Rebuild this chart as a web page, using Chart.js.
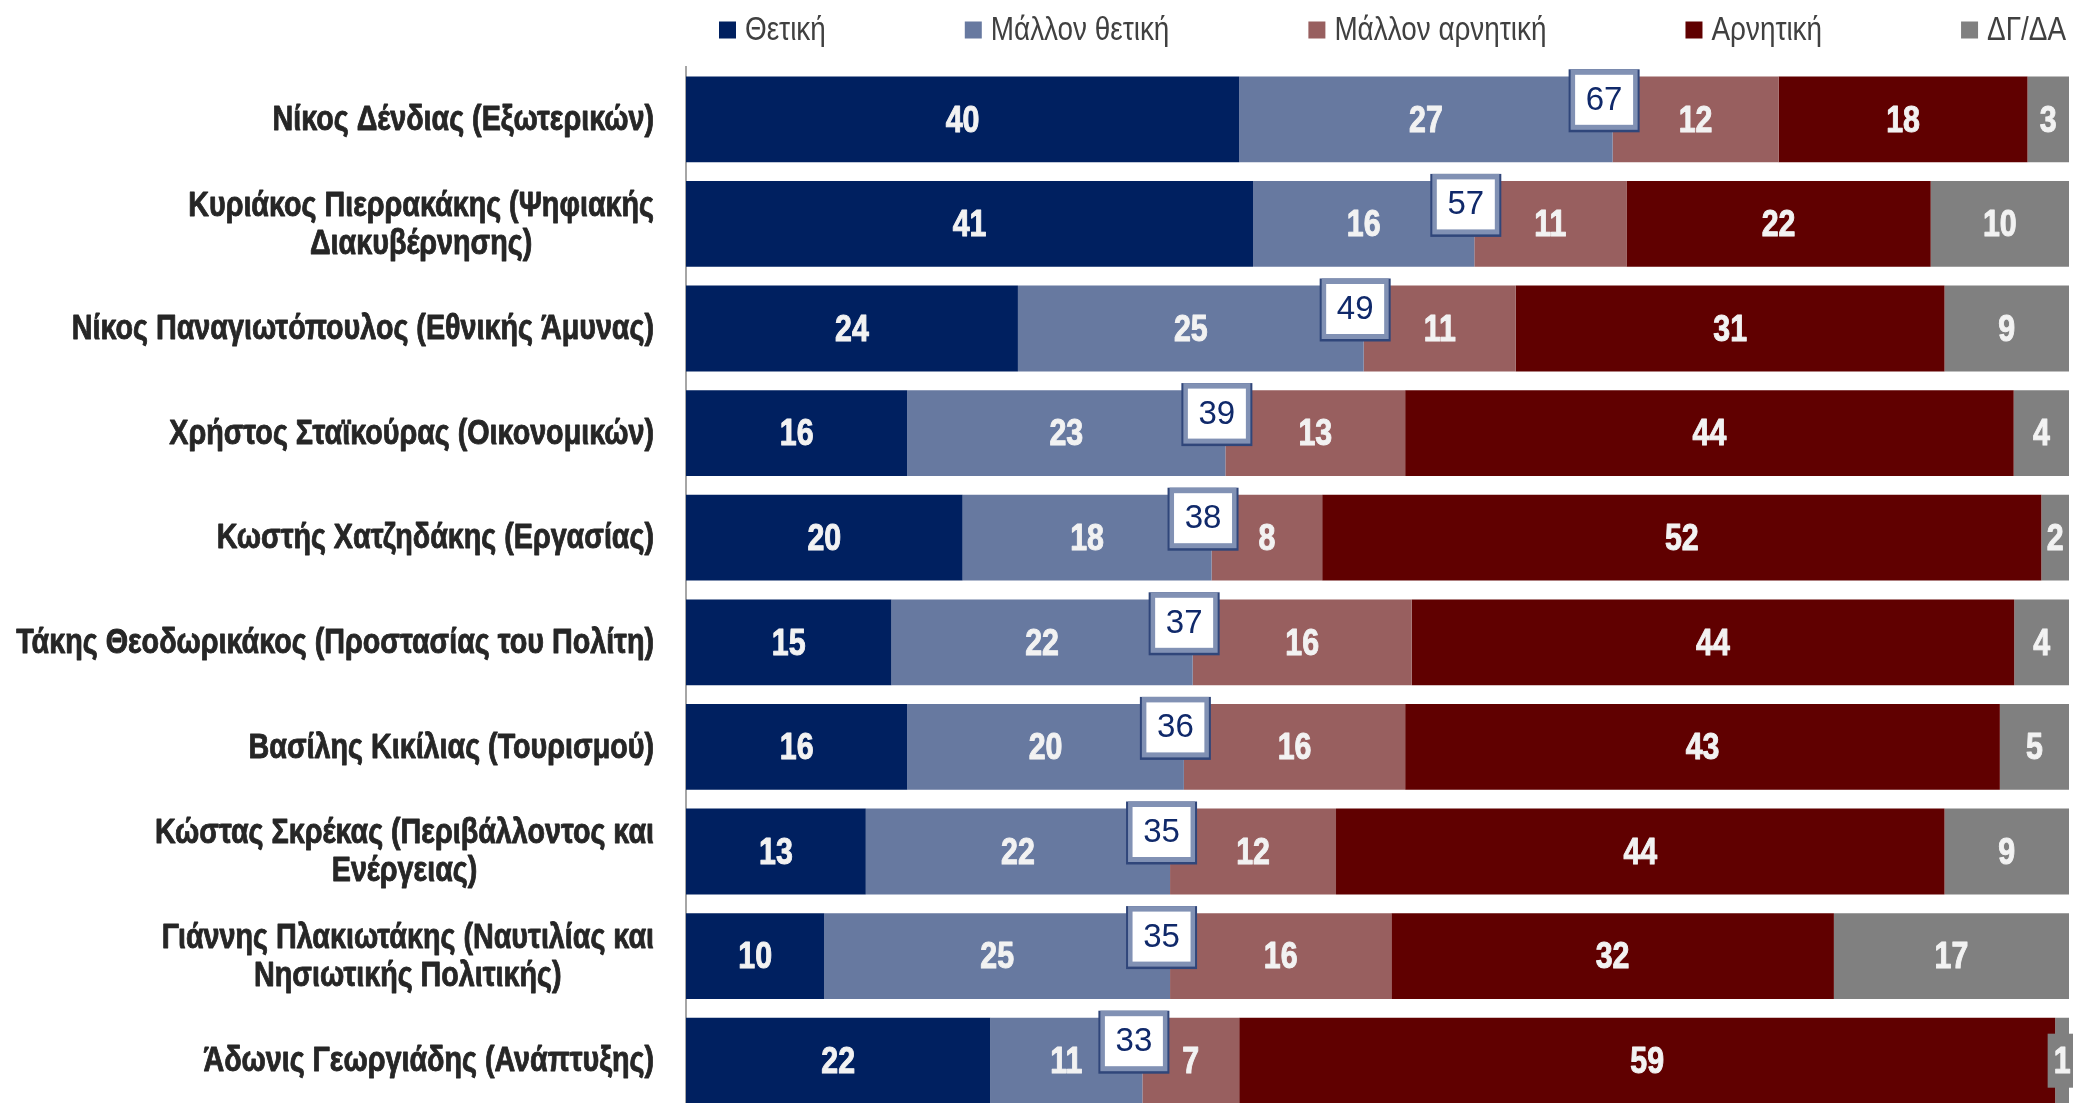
<!DOCTYPE html>
<html>
<head>
<meta charset="utf-8">
<script src="https://cdn.jsdelivr.net/npm/chart.js@4.4.1/dist/chart.umd.min.js"></script>
<style>
  html, body { margin: 0; padding: 0; background: #fff; overflow: hidden; }
  #wrap { position: relative; width: 2073px; height: 1113px; }
</style>
</head>
<body>
<div id="wrap"><canvas id="ministersChart"></canvas></div>
<script>
// Υπουργοί (κατηγορίες), δύο γραμμές όπου χρειάζεται
const ministers = [
  ["Νίκος Δένδιας (Εξωτερικών)"],
  ["Κυριάκος Πιερρακάκης (Ψηφιακής", "Διακυβέρνησης)"],
  ["Νίκος Παναγιωτόπουλος (Εθνικής Άμυνας)"],
  ["Χρήστος Σταϊκούρας (Οικονομικών)"],
  ["Κωστής Χατζηδάκης (Εργασίας)"],
  ["Τάκης Θεοδωρικάκος (Προστασίας του Πολίτη)"],
  ["Βασίλης Κικίλιας (Τουρισμού)"],
  ["Κώστας Σκρέκας (Περιβάλλοντος και", "Ενέργειας)"],
  ["Γιάννης Πλακιωτάκης (Ναυτιλίας και", "Νησιωτικής Πολιτικής)"],
  ["Άδωνις Γεωργιάδης (Ανάπτυξης)"]
];

const thetiki        = [40, 41, 24, 16, 20, 15, 16, 13, 10, 22];
const mallonThetiki  = [27, 16, 25, 23, 18, 22, 20, 22, 25, 11];
const mallonArnitiki = [12, 11, 11, 13,  8, 16, 16, 12, 16,  7];
const arnitiki       = [18, 22, 31, 44, 52, 44, 43, 44, 32, 59];
const dgda           = [ 3, 10,  9,  4,  2,  4,  5,  9, 17,  1];
// σύνολο θετικών (κουτάκι)
const synoloThetika  = [67, 57, 49, 39, 38, 37, 36, 35, 35, 33];

const seires  = ["Θετική", "Μάλλον θετική", "Μάλλον αρνητική", "Αρνητική", "ΔΓ/ΔΑ"];
const xromata = ["#002060", "#6779a0", "#985f5f", "#600000", "#808080"];

// geen Arial Narrow beschikbaar: Liberation Sans horizontaal samendrukken
const FONT = '"Liberation Sans", Arial, sans-serif';
const SMAL = 0.82;

const waardes = [thetiki, mallonThetiki, mallonArnitiki, arnitiki, dgda];

// 100% stacked: elke rij genormaliseerd op zijn som
function percentages(reeks) {
  return reeks.map((v, i) => {
    const som = waardes.reduce((s, r) => s + r[i], 0);
    return (v / som) * 100;
  });
}

function breedte(ctx, tekst) {
  return ctx.measureText(tekst).width * SMAL;
}

// smalle tekst, optioneel iets vetter via een dunne omlijning
function tekstSmal(ctx, tekst, x, y, vet) {
  ctx.save();
  ctx.translate(x, y);
  ctx.scale(SMAL, 1);
  ctx.fillText(tekst, 0, 0);
  if (vet) {
    ctx.strokeStyle = ctx.fillStyle;
    ctx.lineWidth = vet;
    ctx.lineJoin = "round";
    ctx.strokeText(tekst, 0, 0);
  }
  ctx.restore();
}

const datasets = waardes.map((reeks, k) => ({
  label: seires[k],
  data: percentages(reeks),
  waarden: reeks,
  backgroundColor: xromata[k],
  borderWidth: 0,
  barPercentage: 0.82,
  categoryPercentage: 1
}));

// Legenda zelf tekenen (gelijkmatige tussenruimte)
const legendaPlugin = {
  id: "legenda",
  afterDraw(chart) {
    const ctx = chart.ctx;
    ctx.save();
    ctx.font = "34px " + FONT;
    ctx.textBaseline = "middle";
    ctx.textAlign = "left";
    const start = 719, eind = 2066, blok = 17, tekstOffset = 26;
    const breedtes = seires.map(s => tekstOffset + breedte(ctx, s));
    const totaal = breedtes.reduce((a, b) => a + b, 0);
    const gat = (eind - start - totaal) / (seires.length - 1);
    let x = start;
    const y = 30;
    seires.forEach((s, k) => {
      ctx.fillStyle = xromata[k];
      ctx.fillRect(x, y - blok / 2, blok, blok);
      ctx.fillStyle = "#404040";
      tekstSmal(ctx, s, x + tekstOffset, y + 1, 0);
      x += breedtes[k] + gat;
    });
    ctx.restore();
  }
};

// Namen links van de as, blok rechts uitgelijnd, regels gecentreerd
const namenPlugin = {
  id: "namen",
  afterDraw(chart) {
    const ctx = chart.ctx;
    const yScale = chart.scales.y;
    const rechts = 654, regel = 38;
    ctx.save();
    ctx.font = "bold 35px " + FONT;
    ctx.fillStyle = "#262626";
    ctx.textBaseline = "middle";
    ctx.textAlign = "center";
    ministers.forEach((regels, i) => {
      const yc = yScale.getPixelForValue(i);
      const breed = Math.max(...regels.map(r => breedte(ctx, r)));
      const cx = rechts - breed / 2;
      const y0 = yc - ((regels.length - 1) * regel) / 2;
      regels.forEach((r, j) => tekstSmal(ctx, r, cx, y0 + j * regel + 1, 0.9));
    });
    ctx.restore();
  }
};

// Waarden in de segmenten + kader met totaal positief
const labelsPlugin = {
  id: "waardeLabels",
  afterDatasetsDraw(chart) {
    const ctx = chart.ctx;
    ctx.save();
    ctx.textAlign = "center";
    ctx.textBaseline = "middle";
    ctx.font = "bold 37px " + FONT;
    chart.data.datasets.forEach((ds, di) => {
      const meta = chart.getDatasetMeta(di);
      meta.data.forEach((bar, i) => {
        const p = bar.getProps(["x", "y", "base"], true);
        const links = Math.min(p.base, p.x), rechts = Math.max(p.base, p.x);
        const cx = (links + rechts) / 2;
        const tekst = String(ds.waarden[i]);
        const tw = breedte(ctx, tekst);
        if (tw + 8 > rechts - links) {
          ctx.fillStyle = ds.backgroundColor;
          ctx.fillRect(cx - tw / 2 - 6, p.y - 27, tw + 12, 54);
        }
        ctx.fillStyle = "#f2f2f2";
        tekstSmal(ctx, tekst, cx, p.y + 2, 1);
      });
    });

    // kaders
    const meta1 = chart.getDatasetMeta(1);
    meta1.data.forEach((bar, i) => {
      const p = bar.getProps(["x", "y"], true);
      const w = 71, h = 63;
      const bx = p.x - 8.5 - w / 2, by = p.y - 18.5 - h / 2;
      ctx.fillStyle = "#30467a";
      ctx.fillRect(bx, by, w, h);
      ctx.fillStyle = "#8191b4";
      ctx.fillRect(bx + 2, by, w - 4, h - 2.5);
      ctx.fillStyle = "#ffffff";
      ctx.fillRect(bx + 6.5, by + 5.5, w - 13, h - 13);
      ctx.font = "33px " + FONT;
      ctx.fillStyle = "#10296a";
      ctx.fillText(String(synoloThetika[i]), bx + w / 2, by + h / 2);
    });
    ctx.restore();
  }
};

const canvas = document.getElementById("ministersChart");
new Chart(canvas.getContext("2d"), {
  type: "bar",
  data: { labels: ministers, datasets },
  options: {
    indexAxis: "y",
    responsive: true,
    maintainAspectRatio: false,
    animation: false,
    layout: { padding: { top: 67, right: 4, bottom: 0, left: 0 } },
    plugins: {
      legend: { display: false },
      tooltip: { enabled: false }
    },
    scales: {
      x: { stacked: true, min: 0, max: 100, display: false },
      y: {
        stacked: true,
        grid: { display: false, drawTicks: false },
        border: { display: true, color: "#a6a6a6", width: 2 },
        ticks: { display: false },
        afterFit(scale) { scale.width = 686; }
      }
    }
  },
  plugins: [labelsPlugin, namenPlugin, legendaPlugin]
});
</script>
</body>
</html>
